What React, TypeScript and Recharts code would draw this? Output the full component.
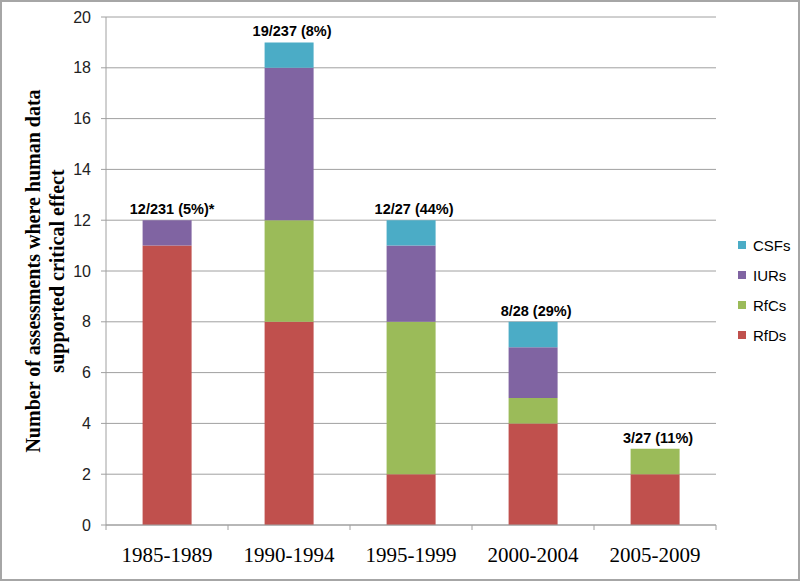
import React from "react"
import { BarChart, Bar, XAxis, YAxis, CartesianGrid, LabelList } from "recharts"

const periods = ["1985-1989", "1990-1994", "1995-1999", "2000-2004", "2005-2009"]
const rfds = [11, 8, 2, 4, 2]
const rfcs = [0, 4, 6, 1, 1]
const iurs = [1, 6, 3, 2, 0]
const csfs = [0, 1, 1, 1, 0]
const totals = ["12/231 (5%)*", "19/237 (8%)", "12/27 (44%)", "8/28 (29%)", "3/27 (11%)"]
const yTicks = [0, 2, 4, 6, 8, 10, 12, 14, 16, 18, 20]

// stacking order, bottom to top
const series = [
  { key: "RfDs", color: "#C0504D", values: rfds },
  { key: "RfCs", color: "#9BBB59", values: rfcs },
  { key: "IURs", color: "#8064A2", values: iurs },
  { key: "CSFs", color: "#4BACC6", values: csfs },
]

const data = periods.map((p, i) => {
  const row: Record<string, number | string> = { period: p, total: totals[i] }
  series.forEach((s) => {
    row[s.key] = s.values[i]
  })
  return row
})

// which series sits on top of each stack (gets the total label)
const topSeries = periods.map((_, i) => {
  let top = 0
  series.forEach((s, k) => {
    if (s.values[i] > 0) top = k
  })
  return top
})

const SANS = "'Liberation Sans', Arial, sans-serif"
const SERIF = "'Liberation Serif', 'Times New Roman', serif"
const GRID = "#a0a0a0"

// category labels centred, tick marks on the category boundaries
function PeriodTick(props: any) {
  const { x, y, payload, index, visibleTicksCount } = props
  const half = payload?.offset ?? 61
  const last = index === visibleTicksCount - 1
  return (
    <g>
      <line x1={x - half} x2={x - half} y1={y} y2={y + 5} stroke={GRID} />
      {last && <line x1={x + half} x2={x + half} y1={y} y2={y + 5} stroke={GRID} />}
      <text x={x} y={y + 37} textAnchor="middle" fontFamily={SERIF} fontSize={21} fill="#000">
        {payload.value}
      </text>
    </g>
  )
}

function YLabel(props: any) {
  const vb = props.viewBox || {}
  const cy = vb.y + vb.height / 2
  return (
    <text
      transform={`translate(0, ${cy}) rotate(-90)`}
      textAnchor="middle"
      fontFamily={SERIF}
      fontWeight="bold"
      fontSize={20}
      fill="#000"
    >
      <tspan x={0} y={40}>Number of assessments where human data</tspan>
      <tspan x={0} y={64}>supported critical effect</tspan>
    </text>
  )
}

function totalLabel(seriesIndex: number) {
  return (props: any) => {
    const { x, y, width, value } = props
    const i = totals.indexOf(value)
    if (i < 0 || topSeries[i] !== seriesIndex) return null
    return (
      <text
        x={x + width / 2 + (i === 0 ? 5 : 3)}
        y={y - 6}
        textAnchor="middle"
        fontFamily={SANS}
        fontWeight="bold"
        fontSize={14.5}
        fill="#000"
      >
        {value}
      </text>
    )
  }
}

export default function App() {
  return (
    <div style={{ position: "relative", width: 800, height: 581, background: "#fff" }}>
      <style>{"body{margin:0}"}</style>
      <BarChart
        width={800}
        height={581}
        data={data}
        margin={{ top: 17, right: 84, left: 0, bottom: 0 }}
        barCategoryGap="30%"
      >
        <CartesianGrid vertical={false} stroke={GRID} />
        <XAxis
          dataKey="period"
          height={56}
          stroke={GRID}
          tickLine={false}
          tickSize={0}
          tickMargin={0}
          tick={<PeriodTick />}
          interval={0}
        />
        <YAxis
          width={106}
          domain={[0, 20]}
          ticks={yTicks}
          stroke={GRID}
          tickSize={5}
          tickMargin={10}
          tick={{ fontFamily: SANS, fontSize: 16, fill: "#222" }}
          label={<YLabel />}
        />
        {series.map((s, i) => (
          <Bar key={s.key} dataKey={s.key} stackId="a" fill={s.color} isAnimationActive={false}>
            <LabelList dataKey="total" content={totalLabel(i)} />
          </Bar>
        ))}
      </BarChart>
      <div style={{ position: "absolute", left: 738, top: 230 }}>
        {[...series].reverse().map((s) => (
          <div key={s.key} style={{ display: "flex", alignItems: "center", height: 30 }}>
            <span style={{ width: 8, height: 8, background: s.color, marginRight: 7 }} />
            <span style={{ fontFamily: SANS, fontSize: 15, color: "#000" }}>{s.key}</span>
          </div>
        ))}
      </div>
      <div
        style={{
          position: "absolute",
          left: 0,
          top: 0,
          width: 800,
          height: 581,
          boxSizing: "border-box",
          border: "2px solid #a6a6a6",
          pointerEvents: "none",
        }}
      />
    </div>
  )
}
